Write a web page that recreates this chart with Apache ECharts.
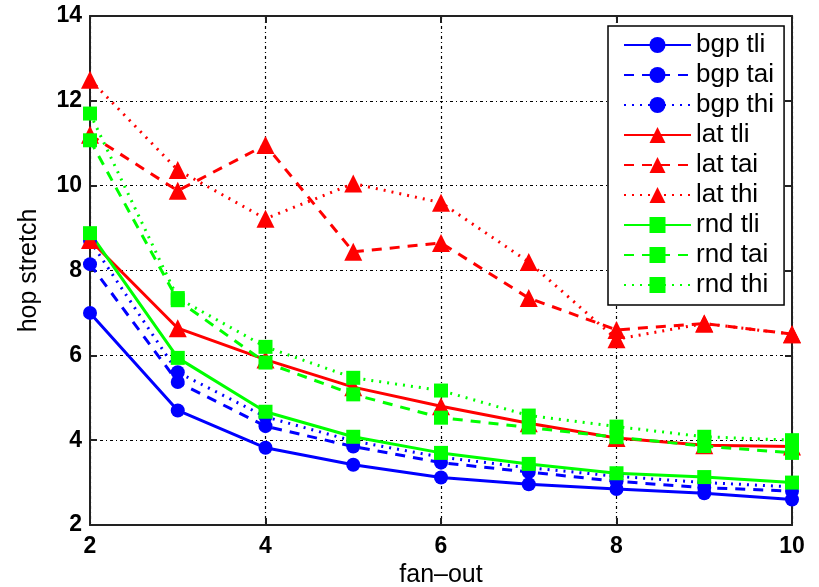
<!DOCTYPE html>
<html>
<head>
<meta charset="utf-8">
<script src="https://cdn.jsdelivr.net/npm/echarts@6/dist/echarts.min.js"></script>
<style>
  html, body { margin: 0; padding: 0; background: #fff; }
  #chart { width: 819px; height: 587px; }
</style>
</head>
<body>
<div id="chart"></div>
<script>
// fan-out values on the x axis
var fanOut = [2, 3, 4, 5, 6, 7, 8, 9, 10];

// hop stretch
var bgpTli = [7.0, 4.7, 3.82, 3.42, 3.12, 2.96, 2.85, 2.75, 2.6];
var bgpTai = [8.15, 5.37, 4.33, 3.85, 3.47, 3.25, 3.03, 2.88, 2.8];
var bgpThi = [8.7, 5.6, 4.55, 3.98, 3.6, 3.35, 3.15, 3.0, 2.9];
var latTli = [8.72, 6.64, 5.9, 5.25, 4.8, 4.4, 4.05, 3.88, 3.85];
var latTai = [11.2, 9.88, 10.96, 8.44, 8.65, 7.35, 6.6, 6.75, 6.5];
var latThi = [12.5, 10.37, 9.22, 10.05, 9.6, 8.2, 6.38, 6.75, 6.5];
var rndTli = [8.88, 5.94, 4.67, 4.08, 3.7, 3.44, 3.22, 3.13, 3.0];
var rndTai = [11.07, 7.3, 5.83, 5.08, 4.53, 4.3, 4.07, 3.86, 3.7];
var rndThi = [11.7, 7.35, 6.2, 5.47, 5.17, 4.58, 4.32, 4.08, 4.0];

var seriesNames = ['bgp tli', 'bgp tai', 'bgp thi', 'lat tli', 'lat tai', 'lat thi', 'rnd tli', 'rnd tai', 'rnd thi'];

function pairs(vals) {
    var out = [];
    for (var i = 0; i < fanOut.length; i++) {
        out.push([fanOut[i], vals[i]]);
    }
    return out;
}

function mkSeries(name, vals, color, lineType, symbol, size) {
    return {
        name: name,
        type: 'line',
        data: pairs(vals),
        symbol: symbol,
        symbolSize: size,
        showAllSymbol: true,
        lineStyle: { color: color, width: 3, type: lineType },
        itemStyle: { color: color },
        emphasis: { disabled: true },
        animation: false
    };
}

var font = 'Liberation Sans, Arial, sans-serif';
var gridDash = { color: '#000', width: 1.2, type: [3, 3, 1, 3] };
var boxLine = { color: '#222', width: 2 };

var chart = echarts.init(document.getElementById('chart'));

var option = {
    backgroundColor: '#fff',
    animation: false,
    grid: { left: 90, right: 27, top: 16, bottom: 62, show: false, containLabel: false, outerBoundsMode: 'none' },
    legend: {
        orient: 'vertical',
        left: 608,
        top: 26,
        padding: [4, 10, 5, 15],
        itemWidth: 67,
        itemHeight: 20,
        itemGap: 0,
        backgroundColor: '#fff',
        borderColor: '#000',
        borderWidth: 1.5,
        data: seriesNames,
        textStyle: { fontFamily: font, fontSize: 26, color: '#000', lineHeight: 30 }
    },
    xAxis: [{
        type: 'value',
        min: 2, max: 10, interval: 2,
        name: 'fan–out',
        nameLocation: 'middle',
        nameGap: 36,
        nameTextStyle: { fontFamily: font, fontSize: 25, color: '#000' },
        axisLine: { show: true, lineStyle: boxLine },
        axisTick: { show: true, inside: true, length: 7, lineStyle: boxLine },
        axisLabel: { fontFamily: font, fontSize: 23, fontWeight: 'bold', color: '#000', margin: 10 },
        splitLine: { show: true, lineStyle: gridDash }
    }, {
        type: 'value',
        position: 'top',
        min: 2, max: 10, interval: 2,
        axisLine: { show: true, lineStyle: boxLine },
        axisTick: { show: true, inside: true, length: 7, lineStyle: boxLine },
        axisLabel: { show: false },
        splitLine: { show: false }
    }],
    yAxis: [{
        type: 'value',
        min: 2, max: 14, interval: 2,
        name: 'hop stretch',
        nameLocation: 'middle',
        nameGap: 48,
        nameTextStyle: { fontFamily: font, fontSize: 25, color: '#000' },
        axisLine: { show: true, lineStyle: boxLine },
        axisTick: { show: true, inside: true, length: 7, lineStyle: boxLine },
        axisLabel: { fontFamily: font, fontSize: 23, fontWeight: 'bold', color: '#000', margin: 8 },
        splitLine: { show: true, lineStyle: gridDash }
    }, {
        type: 'value',
        position: 'right',
        min: 2, max: 14, interval: 2,
        axisLine: { show: true, lineStyle: boxLine },
        axisTick: { show: true, inside: true, length: 7, lineStyle: boxLine },
        axisLabel: { show: false },
        splitLine: { show: false }
    }],
    series: [
        mkSeries('bgp tli', bgpTli, '#0000ff', 'solid', 'circle', 14),
        mkSeries('bgp tai', bgpTai, '#0000ff', [10, 8], 'circle', 14),
        mkSeries('bgp thi', bgpThi, '#0000ff', [2, 6], 'circle', 14),
        mkSeries('lat tli', latTli, '#ff0000', 'solid', 'triangle', 18),
        mkSeries('lat tai', latTai, '#ff0000', [10, 8], 'triangle', 18),
        mkSeries('lat thi', latThi, '#ff0000', [2, 6], 'triangle', 18),
        mkSeries('rnd tli', rndTli, '#00ff00', 'solid', 'rect', 14),
        mkSeries('rnd tai', rndTai, '#00ff00', [10, 8], 'rect', 14),
        mkSeries('rnd thi', rndThi, '#00ff00', [2, 6], 'rect', 14)
    ]
};

chart.setOption(option);
</script>
</body>
</html>
